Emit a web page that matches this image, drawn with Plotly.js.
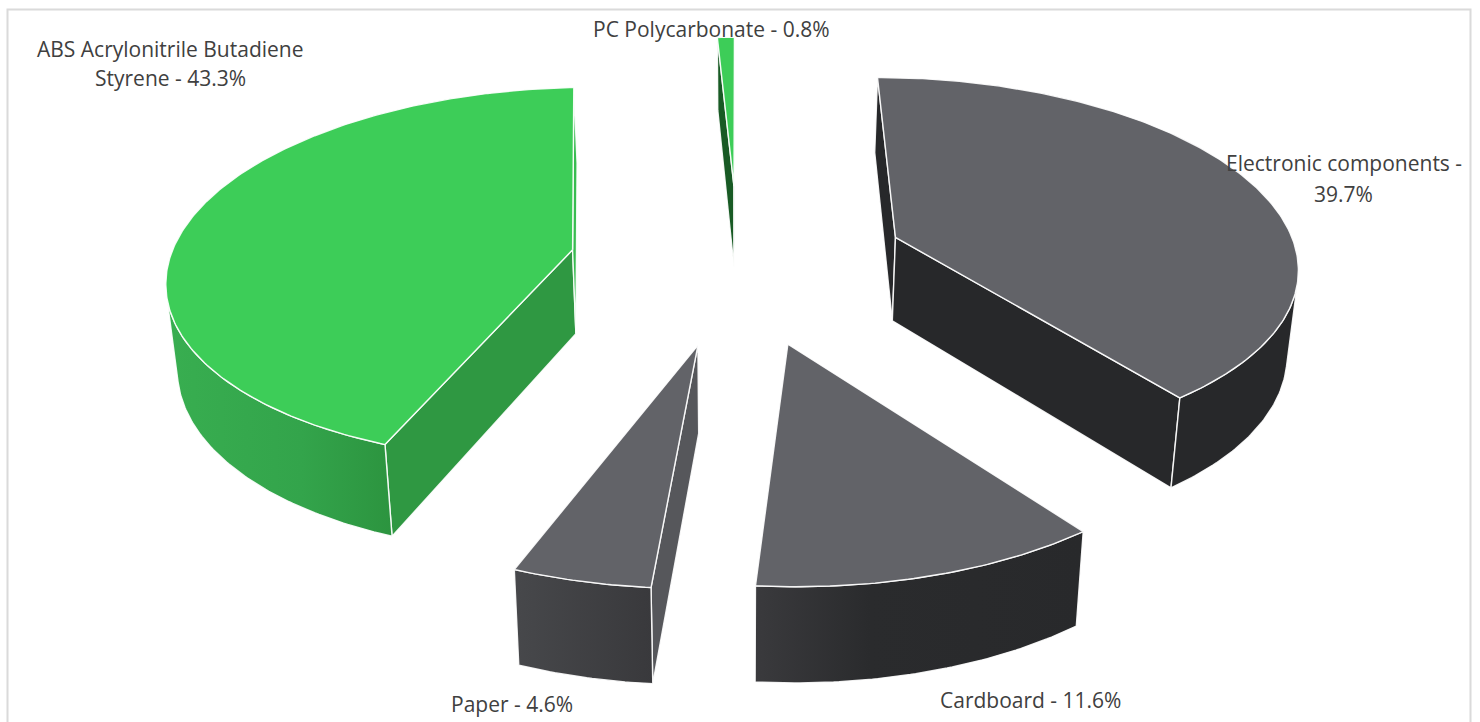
<!DOCTYPE html>
<html><head><meta charset="utf-8">
<script src="https://cdn.plot.ly/plotly-3.0.1.min.js"></script>
<style>html,body{margin:0;padding:0;background:#fff}#c{width:1480px;height:722px}</style>
</head><body><div id="c"></div>
<script>
// Data, clockwise from 12 o'clock
const materials = ['Electronic components','Cardboard','Paper','ABS Acrylonitrile Butadiene<br>Styrene','PC Polycarbonate'];
const shares = [39.7, 11.6, 4.6, 43.3, 0.8];
const separators = [' -<br>',' - ',' - ',' - ',' - '];

// Styles per slice
const topColors = ['#626368','#626368','#626368','#3DCD58','#3DCD58'];
const startWallColors = ['#27282A','#27282A','#56575B','#2F9842','#185A24'];
const endWallColors = ['#27282A','#27282A','#56575B','#38BC50','#185A24'];
const wallGradients = [
  [[0,'#27282A'],[1,'#27282A']],
  [[0,'#3A3A3D'],[0.35,'#2A2B2D'],[1,'#28292B']],
  [[0,'#47484B'],[1,'#39393C']],
  [[0,'#38AE50'],[0.6,'#33A44B'],[1,'#2C943F']],
  [[0,'#185A24'],[1,'#185A24']]];
const labelX = [1343.5,1030,512,170,711.5];
const labelY = [[163,194],[700],[704],[49,78],[29]];

// Projection of the 3D pie
const CX=738, CY=262.5, RX=403.5, RY=187, K=0.131, EXPLODE_X=0.419, EXPLODE_Z=0.43, DEPTH=84.5;
function project(X,Z,h){
  const s=1/(1+K*Z), shrink=1-0.02*h;
  return [CX+RX*X*s*shrink, CY-RY*Z*s + h*DEPTH*(1-0.098*Z)];
}
const deg=Math.PI/180;
const total=shares.reduce((a,b)=>a+b,0);
function polyTrace(pts,color,grad){
  const t={type:'scatter',mode:'lines',x:pts.map(p=>p[0]).concat(pts[0][0]),y:pts.map(p=>p[1]).concat(pts[0][1]),
    fill:'toself',fillcolor:color,line:{color:'rgba(255,255,255,0.9)',width:1.4},hoverinfo:'skip',showlegend:false};
  if(grad) t.fillgradient={type:'horizontal',colorscale:grad};
  return t;
}
function area(q){let a=0;for(let i=0;i<q.length;i++){const p=q[i],n=q[(i+1)%q.length];a+=p[0]*n[1]-n[0]*p[1];}return a/2;}

const sliceTraces=[]; let acc=0;
shares.forEach((v,i)=>{
  const a0=acc/total*360, a1=(acc+v)/total*360; acc+=v;
  const mid=(a0+a1)/2*deg, ox=EXPLODE_X*Math.sin(mid), oz=EXPLODE_Z*Math.cos(mid);
  const n=Math.max(4,Math.round((a1-a0)*1.5));
  const angles=[]; for(let j=0;j<=n;j++) angles.push((a0+(a1-a0)*j/n)*deg);
  const rim=h=>angles.map(a=>project(ox+Math.sin(a),oz+Math.cos(a),h));
  const top=rim(0), bot=rim(1), at=project(ox,oz,0), ab=project(ox,oz,1);
  const traces=[];
  const sw=[at,top[0],bot[0],ab], ew=[at,top[n],bot[n],ab];
  if(area(sw)<0) traces.push(polyTrace(sw,startWallColors[i]));
  if(area(ew)>0) traces.push(polyTrace(ew,endWallColors[i]));
  const tv=[],bv=[];
  for(let j=0;j<n;j++){
    if(area([top[j],top[j+1],bot[j+1],bot[j]])<0){
      if(!tv.length){tv.push(top[j]);bv.push(bot[j]);}
      tv.push(top[j+1]);bv.push(bot[j+1]);
    }
  }
  if(tv.length) traces.push(polyTrace(tv.concat(bv.reverse()),wallGradients[i][0][1],wallGradients[i]));
  traces.push(polyTrace([at].concat(top),topColors[i]));
  sliceTraces.push(traces);
});
// Paint back to front
const order=[4,3,0,2,1];
const data=[]; order.forEach(i=>data.push(...sliceTraces[i]));

const annotations=[];
materials.forEach((m,i)=>{
  const lines=(m+separators[i]+shares[i].toFixed(1)+'%').split('<br>');
  lines.forEach((text,j)=>annotations.push({xref:'x',yref:'y',x:labelX[i],y:labelY[i][j],
    text,showarrow:false,xanchor:'center',yanchor:'middle',align:'center',
    font:{family:'"Open Sans",sans-serif',size:21,color:'#404040'}}));
});

const layout={width:1480,height:722,margin:{l:0,r:0,t:0,b:0},paper_bgcolor:'#fff',plot_bgcolor:'#fff',showlegend:false,
  xaxis:{range:[0,1480],visible:false,fixedrange:true},yaxis:{range:[722,0],visible:false,fixedrange:true},
  annotations,
  shapes:[{type:'path',xref:'x',yref:'y',path:'M7.5,722 L7.5,9.5 L1470.5,9.5 L1470.5,722',line:{color:'#DADADA',width:2},layer:'below'}]};
Plotly.newPlot('c',data,layout,{displayModeBar:false,staticPlot:true});
</script></body></html>
